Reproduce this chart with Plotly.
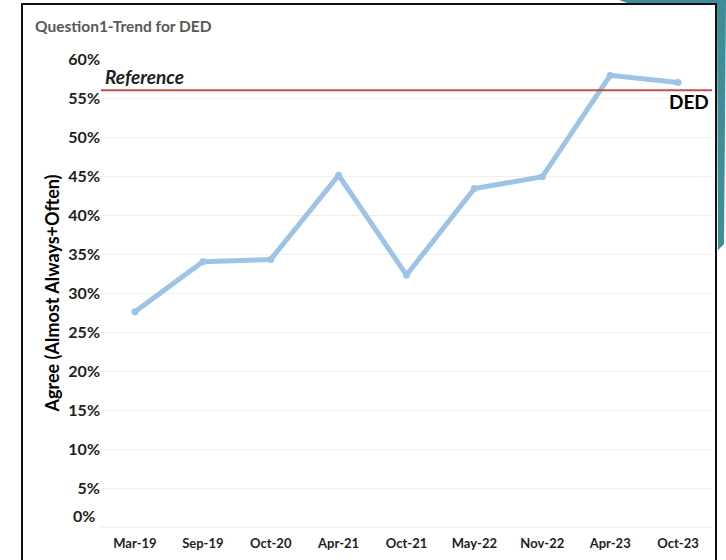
import plotly.graph_objects as go

# Survey waves and share answering "Almost Always" or "Often" (%)
waves = ["Mar-19", "Sep-19", "Oct-20", "Apr-21", "Oct-21", "May-22", "Nov-22", "Apr-23", "Oct-23"]
agree_pct = [27.6, 34.0, 34.3, 45.1, 32.3, 43.4, 44.9, 57.9, 57.0]
reference_pct = 56.0
y_ticks = [5, 10, 15, 20, 25, 30, 35, 40, 45, 50, 55, 60]
y_tick_text = [f"{v}%" for v in y_ticks]

W, H = 726, 560
ML, MR, MT, MB = 101, 14, 59, 33
PW, PH = W - ML - MR, H - MT - MB


def px_x(p):
    return (p - ML) / PW


def px_y(p):
    return (H - MB - p) / PH


FONT = "Lato"
INK = "#1E1E1E"

fig = go.Figure()

fig.add_trace(go.Scatter(
    x=waves, y=agree_pct, mode="lines+markers",
    line=dict(color="#9DC3E6", width=5),
    marker=dict(color="#9DC3E6", size=7),
    hoverinfo="skip", showlegend=False,
))

# Reference level across the full plot width
fig.add_shape(type="line", xref="paper", yref="y", x0=0, x1=1,
              y0=reference_pct, y1=reference_pct,
              line=dict(color="#C0504D", width=2))

fig.add_annotation(xref="paper", yref="paper", x=px_x(103), y=px_y(76),
                   xanchor="left", yanchor="middle", showarrow=False,
                   text="<b><i>Reference</i></b>",
                   font=dict(family=FONT, size=19, color=INK))
fig.add_annotation(xref="paper", yref="paper", x=px_x(711), y=px_y(101),
                   xanchor="right", yanchor="middle", showarrow=False,
                   text="<b>DED</b>",
                   font=dict(family=FONT, size=19, color="#000000"))
# zero label sits a little above the baseline
fig.add_annotation(xref="paper", yref="paper", x=px_x(97), y=px_y(515),
                   xanchor="right", yanchor="middle", showarrow=False,
                   text="<b>0%</b>",
                   font=dict(family=FONT, size=16, color=INK))

# Frame and corner accent around the chart
fig.add_shape(type="path", xref="paper", yref="paper", layer="below",
              path=(f"M {px_x(619)},{px_y(0)} L {px_x(726)},{px_y(0)} "
                    f"L {px_x(724)},{px_y(244)} L {px_x(718)},{px_y(250)} "
                    f"L {px_x(717)},{px_y(4)} L {px_x(630)},{px_y(4)} Z"),
              fillcolor="#3E8E9A", line=dict(width=0))
fig.add_shape(type="path", xref="paper", yref="paper",
              path=(f"M {px_x(22)},{px_y(570)} L {px_x(22)},{px_y(4)} "
                    f"L {px_x(716)},{px_y(4)} L {px_x(716)},{px_y(570)}"),
              line=dict(color="#111111", width=2))

fig.update_layout(
    width=W, height=H,
    margin=dict(l=ML, r=MR, t=MT, b=MB, autoexpand=False),
    paper_bgcolor="white", plot_bgcolor="white",
    title=dict(text="<b>Question1-Trend for DED</b>", x=35 / W, xanchor="left",
               xref="container", y=1 - 27 / H, yanchor="middle", yref="container",
               font=dict(family=FONT, size=15.5, color="#595959")),
    font=dict(family=FONT),
)

fig.update_xaxes(
    type="category", range=[-0.5, 8.5],
    showgrid=False, zeroline=False, showline=False,
    ticks="outside", ticklen=4, tickcolor="white",
    tickfont=dict(family=FONT, size=13, color=INK),
    tickprefix="<b>", ticksuffix="</b>",
)
fig.update_yaxes(
    range=[0, 60], tickvals=y_ticks, ticktext=[f"<b>{t}</b>" for t in y_tick_text],
    showgrid=True, gridcolor="#EFEFEF", gridwidth=1,
    zeroline=True, zerolinecolor="#EFEFEF", zerolinewidth=1,
    showline=False, ticks="",
    tickfont=dict(family=FONT, size=16, color=INK),
    title=dict(text="<b>Agree (Almost Always+Often)</b>", standoff=4,
               font=dict(family=FONT, size=18, color="#000000")),
)

fig.write_html("out.html")
